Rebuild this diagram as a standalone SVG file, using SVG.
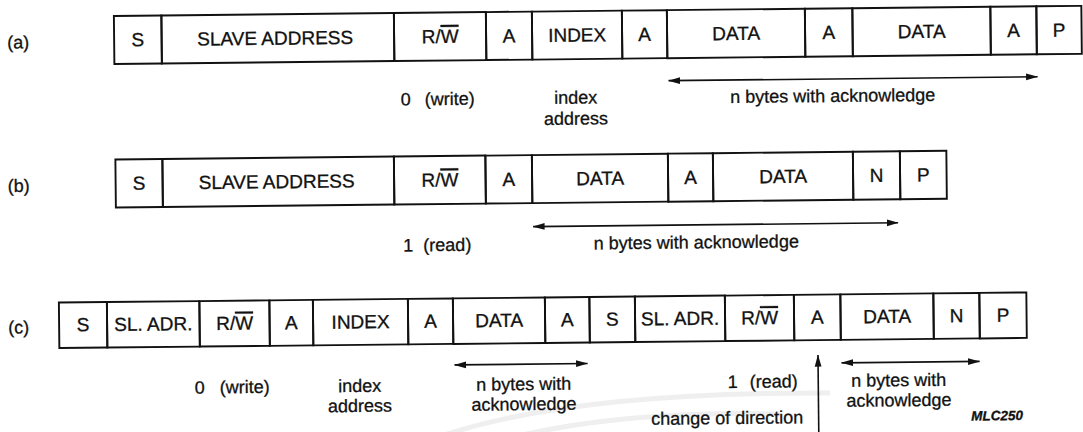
<svg xmlns="http://www.w3.org/2000/svg" width="1083" height="432" viewBox="0 0 1083 432">
  <style>
    .fld rect { fill: none; stroke: #111; stroke-width: 1.9; }
    text { font-family: "Liberation Sans", Arial, Helvetica, sans-serif; font-size: 18px; fill: #111; stroke: #111; stroke-width: 0.3; }
    .fld text { font-size: 19px; }
    .c { text-anchor: middle; }
    .ov { text-decoration: overline; }
    .conn line { stroke: #111; stroke-width: 1.6; fill: none; }
    .tag { font-size: 13.5px; font-weight: bold; font-style: italic; }
    .wm { fill: none; stroke: #efefef; stroke-width: 5; }
  </style>
  <defs>
    <marker id="head" viewBox="0 0 12 8" refX="11.5" refY="4" markerWidth="12" markerHeight="8" orient="auto-start-reverse" markerUnits="userSpaceOnUse">
      <path d="M0,0.6 L12,4 L0,7.4 z" fill="#111"/>
    </marker>
  </defs>
  <rect width="1083" height="432" fill="#fff"/>
  <!-- faint background swoosh of the printed sheet -->
  <path class="wm" d="M430,440 Q560,392 830,393"/>
  <path class="wm" d="M480,446 Q600,410 780,414"/>
  <g transform="rotate(-0.6 541.5 216)">
    <!-- row labels -->
    <text x="9" y="43">(a)</text>
    <text x="8" y="186.5">(b)</text>
    <text x="7" y="328">(c)</text>

    <!-- (a) write: S, slave address, R/W, A, index, A, data..., P -->
    <g id="row-a">
      <g id="a-s" class="fld"><rect x="116" y="11.5" width="47.5" height="48"/><text class="c" x="139.75" y="42">S</text></g>
      <g id="a-addr" class="fld"><rect x="163.5" y="11.5" width="232.5" height="48"/><text class="c" x="277" y="42">SLAVE ADDRESS</text></g>
      <g id="a-rw" class="fld"><rect x="396" y="11.5" width="92" height="48"/><text class="c" x="442" y="42">R/<tspan class="ov">W</tspan></text></g>
      <g id="a-ack1" class="fld"><rect x="488" y="11.5" width="46" height="48"/><text class="c" x="511" y="42">A</text></g>
      <g id="a-index" class="fld"><rect x="534" y="11.5" width="90" height="48"/><text class="c" x="579" y="42">INDEX</text></g>
      <g id="a-ack2" class="fld"><rect x="624" y="11.5" width="45" height="48"/><text class="c" x="646.5" y="42">A</text></g>
      <g id="a-data1" class="fld"><rect x="669" y="11.5" width="138" height="48"/><text class="c" x="738" y="42">DATA</text></g>
      <g id="a-ack3" class="fld"><rect x="807" y="11.5" width="47.5" height="48"/><text class="c" x="830.75" y="42">A</text></g>
      <g id="a-data2" class="fld"><rect x="854.5" y="11.5" width="138" height="48"/><text class="c" x="923.5" y="42">DATA</text></g>
      <g id="a-ack4" class="fld"><rect x="992.5" y="11.5" width="46" height="48"/><text class="c" x="1015.5" y="42">A</text></g>
      <g id="a-stop" class="fld"><rect x="1038.5" y="11.5" width="45" height="48"/><text class="c" x="1061" y="42">P</text></g>
    </g>
    <text x="402" y="104">0<tspan x="426">(write)</tspan></text>
    <text class="c" x="577" y="104">index</text>
    <text class="c" x="577" y="125">address</text>
    <text class="c" x="834" y="105">n bytes with acknowledge</text>

    <!-- (b) read: S, slave address, R/W, A, data..., N, P -->
    <g id="row-b">
      <g id="b-s" class="fld"><rect x="116" y="155" width="47" height="48"/><text class="c" x="139.5" y="185.5">S</text></g>
      <g id="b-addr" class="fld"><rect x="163" y="155" width="231.5" height="48"/><text class="c" x="277" y="185.5">SLAVE ADDRESS</text></g>
      <g id="b-rw" class="fld"><rect x="394.5" y="155" width="91.5" height="48"/><text class="c" x="440.25" y="185.5">R/<tspan class="ov">W</tspan></text></g>
      <g id="b-ack1" class="fld"><rect x="486" y="155" width="46.5" height="48"/><text class="c" x="509.25" y="185.5">A</text></g>
      <g id="b-data1" class="fld"><rect x="532.5" y="155" width="136" height="48"/><text class="c" x="600.5" y="185.5">DATA</text></g>
      <g id="b-ack2" class="fld"><rect x="668.5" y="155" width="45" height="48"/><text class="c" x="691" y="185.5">A</text></g>
      <g id="b-data2" class="fld"><rect x="713.5" y="155" width="140" height="48"/><text class="c" x="783.5" y="185.5">DATA</text></g>
      <g id="b-nack" class="fld"><rect x="853.5" y="155" width="47" height="48"/><text class="c" x="877" y="185.5">N</text></g>
      <g id="b-stop" class="fld"><rect x="900.5" y="155" width="46.5" height="48"/><text class="c" x="923.75" y="185.5">P</text></g>
    </g>
    <text x="403" y="250">1<tspan x="423">(read)</tspan></text>
    <text class="c" x="696" y="250">n bytes with acknowledge</text>

    <!-- (c) combined: write index, repeated start, read data -->
    <g id="row-c">
      <g id="c-s1" class="fld"><rect x="58" y="297.5" width="48" height="45.5"/><text class="c" x="82" y="326.5">S</text></g>
      <g id="c-addr1" class="fld"><rect x="106" y="297.5" width="92.5" height="45.5"/><text class="c" x="152.25" y="326.5">SL. ADR.</text></g>
      <g id="c-rw1" class="fld"><rect x="198.5" y="297.5" width="70" height="45.5"/><text class="c" x="233.5" y="326.5">R/<tspan class="ov">W</tspan></text></g>
      <g id="c-ack1" class="fld"><rect x="268.5" y="297.5" width="43.5" height="45.5"/><text class="c" x="290.25" y="326.5">A</text></g>
      <g id="c-index" class="fld"><rect x="312" y="297.5" width="95" height="45.5"/><text class="c" x="359.5" y="326.5">INDEX</text></g>
      <g id="c-ack2" class="fld"><rect x="407" y="297.5" width="45" height="45.5"/><text class="c" x="429.5" y="326.5">A</text></g>
      <g id="c-data1" class="fld"><rect x="452" y="297.5" width="92" height="45.5"/><text class="c" x="498" y="326.5">DATA</text></g>
      <g id="c-ack3" class="fld"><rect x="544" y="297.5" width="44.5" height="45.5"/><text class="c" x="566.25" y="326.5">A</text></g>
      <g id="c-s2" class="fld"><rect x="588.5" y="297.5" width="45.5" height="45.5"/><text class="c" x="611.25" y="326.5">S</text></g>
      <g id="c-addr2" class="fld"><rect x="634" y="297.5" width="90" height="45.5"/><text class="c" x="679" y="326.5">SL. ADR.</text></g>
      <g id="c-rw2" class="fld"><rect x="724" y="297.5" width="69" height="45.5"/><text class="c" x="758.5" y="326.5">R/<tspan class="ov">W</tspan></text></g>
      <g id="c-ack4" class="fld"><rect x="793" y="297.5" width="46.5" height="45.5"/><text class="c" x="816.25" y="326.5">A</text></g>
      <g id="c-data2" class="fld"><rect x="839.5" y="297.5" width="93" height="45.5"/><text class="c" x="886" y="326.5">DATA</text></g>
      <g id="c-nack" class="fld"><rect x="932.5" y="297.5" width="46" height="45.5"/><text class="c" x="955.5" y="326.5">N</text></g>
      <g id="c-stop" class="fld"><rect x="978.5" y="297.5" width="47" height="45.5"/><text class="c" x="1002" y="326.5">P</text></g>
    </g>
    <text x="193" y="390">0<tspan x="218">(write)</tspan></text>
    <text class="c" x="358" y="390">index</text>
    <text class="c" x="358" y="410">address</text>
    <text class="c" x="522" y="390">n bytes with</text>
    <text class="c" x="522" y="410">acknowledge</text>
    <text x="726" y="390">1<tspan x="748">(read)</tspan></text>
    <text class="c" x="897" y="390">n bytes with</text>
    <text class="c" x="897" y="410">acknowledge</text>
    <text class="c" x="725" y="426">change of direction</text>
    <text class="c tag" x="995" y="425">MLC250</text>

    <!-- span arrows and direction marker -->
    <g id="connectors" class="conn">
      <line x1="670" y1="82" x2="1039" y2="82" marker-start="url(#head)" marker-end="url(#head)"/>
      <line x1="533" y1="226.5" x2="898" y2="226.5" marker-start="url(#head)" marker-end="url(#head)"/>
      <line x1="453" y1="364" x2="586" y2="364" marker-start="url(#head)" marker-end="url(#head)"/>
      <line x1="840" y1="366" x2="978" y2="366" marker-start="url(#head)" marker-end="url(#head)"/>
      <line x1="816.5" y1="436" x2="816.5" y2="358" marker-end="url(#head)"/>
    </g>
  </g>
</svg>
